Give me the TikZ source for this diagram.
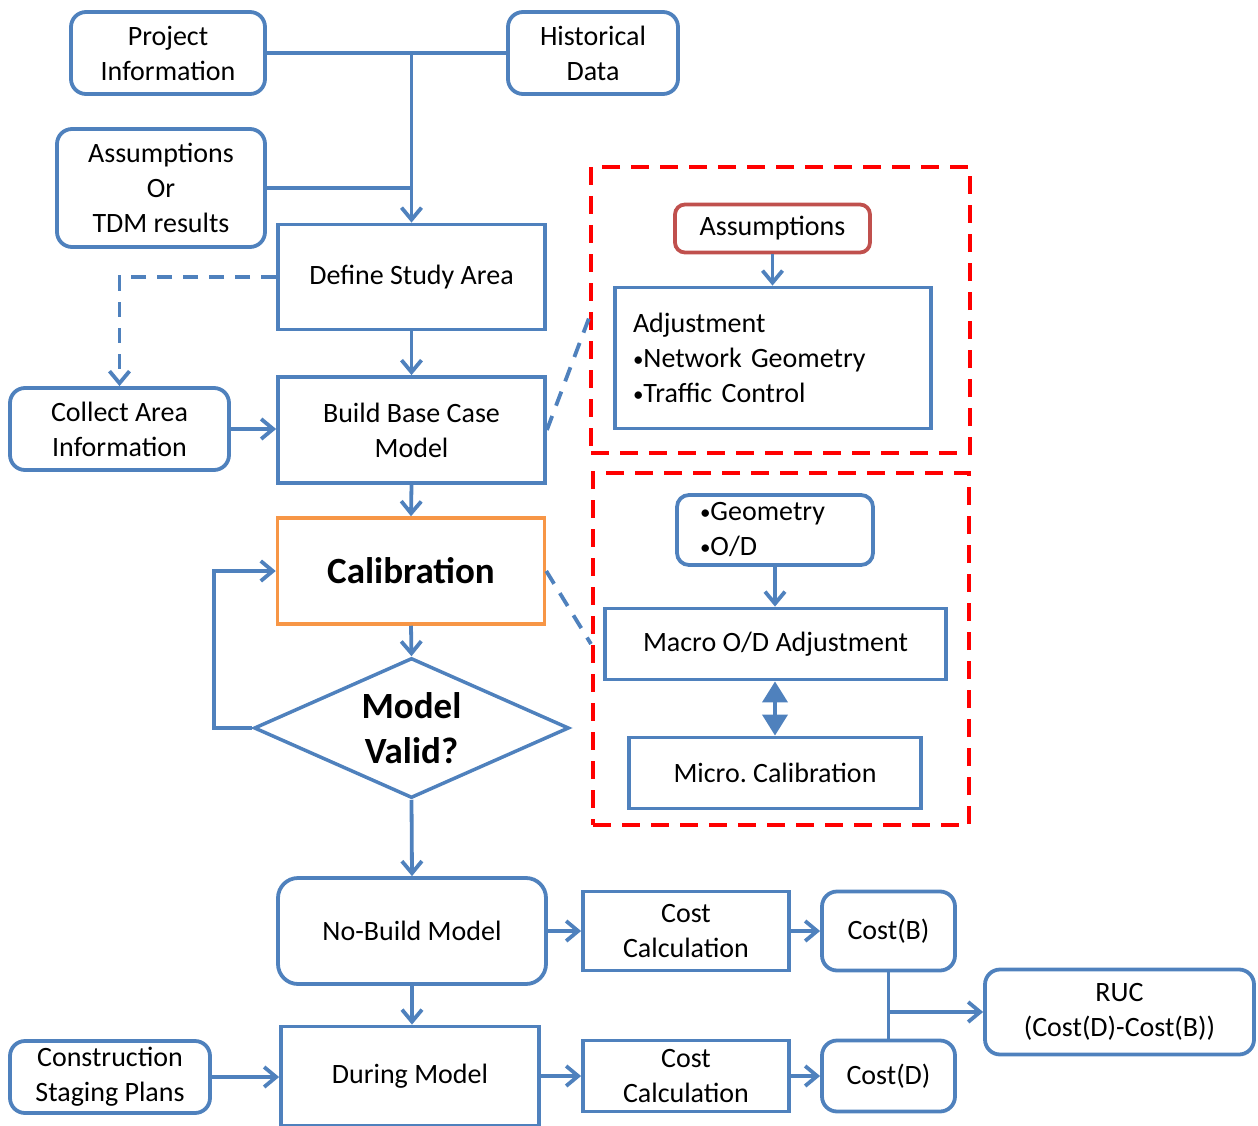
\documentclass[tikz,border=0pt]{standalone}
\usepackage{fontspec}
\setmainfont{Carlito}
\usetikzlibrary{arrows.meta,shapes.geometric,calc}
\definecolor{bl}{HTML}{4F81BD}
\definecolor{orng}{HTML}{F79646}
\definecolor{rbrown}{HTML}{C0504D}
\definecolor{rd}{HTML}{FF0000}
\newcommand\bul{{\fontsize{21}{21}\selectfont\raisebox{1pt}{•}}}
\frenchspacing
\begin{document}
\begin{tikzpicture}[x=1pt,y=-1pt,
  txt/.style={font=\fontsize{28}{35}\selectfont, align=center, text=black},
  sq/.style={txt, draw=bl, line width=3.8pt, rectangle, inner sep=0pt},
  rnd/.style={sq, rounded corners=15pt},
  redbox/.style={draw=rd, line width=4pt, dash pattern=on 18pt off 11pt, rectangle, inner sep=0pt},
  lnk/.style={draw=bl, line width=3.8pt},
  conn/.style={lnk, -{Straight Barb[length=12pt,width=20pt]}},
  dconn/.style={conn, dash pattern=on 15pt off 11pt},
  dlnk/.style={lnk, dash pattern=on 15pt off 11pt},
  biarr/.style={lnk, {Triangle[length=21pt,width=25pt]}-{Triangle[length=21pt,width=25pt]}}
]
\useasboundingbox (0,0) rectangle (1258,1126);

% red dashed groups
\node[redbox, minimum width=379pt, minimum height=286pt] (grp1) at (780.5,310) {};
\node[redbox, minimum width=376pt, minimum height=352pt] (grp2) at (781,649) {};

% left column
\node[rnd, minimum width=194pt, minimum height=82pt] (proj) at (168,53) {Project\\Information};
\node[rnd, minimum width=170pt, minimum height=82pt] (hist) at (593,53) {Historical\\Data};
\node[rnd, minimum width=208pt, minimum height=118pt] (assum) at (161,188) {Assumptions\\Or\\TDM results};
\node[sq, minimum width=267pt, minimum height=105pt] (def) at (411.5,277) {Define Study Area};
\node[rnd, minimum width=219pt, minimum height=82pt] (coll) at (119.5,429) {Collect Area\\Information};
\node[sq, minimum width=267pt, minimum height=106pt] (build) at (411.5,430) {Build Base Case\\Model};
\node[sq, draw=orng, line width=3.5pt, minimum width=267pt, minimum height=106pt,
      font=\fontsize{37}{45}\selectfont\bfseries] (cal) at (411,571) {Calibration};
\node[draw=bl, line width=3.5pt, diamond, aspect=2.25, inner sep=0pt,
      minimum width=315pt, minimum height=140pt, align=center,
      font=\fontsize{37}{45}\selectfont\bfseries] (dia) at (411.5,728) {Model\\Valid?};
\node[rnd, rounded corners=20pt, minimum width=268pt, minimum height=106pt] (nob) at (412,931) {No-Build Model};
\node[sq, minimum width=258pt, minimum height=99pt] (during) at (410,1076) {During Model};
\node[rnd, minimum width=200pt, minimum height=72pt] (const) at (110,1077) {Construction\\Staging Plans};
\node[sq, minimum width=206pt, minimum height=79pt] (cc1) at (686,931) {Cost\\Calculation};
\node[rnd, minimum width=133pt, minimum height=79pt] (costB) at (888.5,931) {Cost(B)};
\node[sq, minimum width=206pt, minimum height=71pt] (cc2) at (686,1076) {Cost\\Calculation};
\node[rnd, minimum width=133pt, minimum height=71pt] (costD) at (888.5,1076) {Cost(D)};
\node[rnd, minimum width=269pt, minimum height=85pt] (ruc) at (1119.5,1012) {RUC\\(Cost(D)-Cost(B))};

% right groups
\node[rnd, draw=rbrown, rounded corners=10pt, minimum width=195pt, minimum height=48pt] (asm) at (772.5,228.5) {Assumptions};
\node[sq, align=left, text width=280pt, inner xsep=18pt, minimum height=141pt] (adj) at (773,358)
  {Adjustment\\\bul Network Geometry\\\bul Traffic Control};
\node[rnd, rounded corners=12pt, align=left, text width=150pt, inner xsep=23pt, minimum height=70pt] (geo) at (775,530)
  {\bul Geometry\\\bul O/D};
\node[sq, minimum width=341pt, minimum height=71pt] (macro) at (775.5,644) {Macro O/D Adjustment};
\node[sq, minimum width=292pt, minimum height=71pt] (micro) at (775,773) {Micro. Calibration};

% connectors
\draw[lnk] (proj.east) -- (hist.west);
\draw[conn] (proj.east -| def.north) -- (def.north);
\draw[lnk] (assum.east) -- (assum.east -| def.north);
\draw[dconn] (def.west) -| (coll.north);
\draw[conn] (def.south) -- (build.north);
\draw[conn] (coll.east) -- (coll.east -| build.west);
\draw[conn] (build.south) -- (cal.north);
\coordinate (g1) at (589,318);
\draw[dlnk] (build.east) -- (g1);
\draw[dlnk] (cal.east) -- (grp2.west |- macro.west);
\draw[conn] (cal.south) -- (dia.north);
\draw[conn] (dia.west) -- ++(-38,0) |- (cal.west);
\draw[conn] (dia.south) -- (nob.north);
\draw[conn] (nob.south) -- (nob.south |- during.north);
\draw[conn] (const.east) -- (const.east -| during.west);
\draw[conn] (nob.east) -- (nob.east -| cc1.west);
\draw[conn] (cc1.east) -- (costB.west);
\draw[conn] (during.east) -- (cc2.west);
\draw[conn] (cc2.east) -- (costD.west);
\draw[lnk] (costB.south) -- (costD.north);
\draw[conn] (costB.south |- ruc.west) -- (ruc.west);
\draw[conn] (asm.south) -- (asm.south |- adj.north);
\draw[conn] (geo.south) -- (geo.south |- macro.north);
\draw[biarr] (micro.north |- macro.south) -- (micro.north);
\end{tikzpicture}
\end{document}
